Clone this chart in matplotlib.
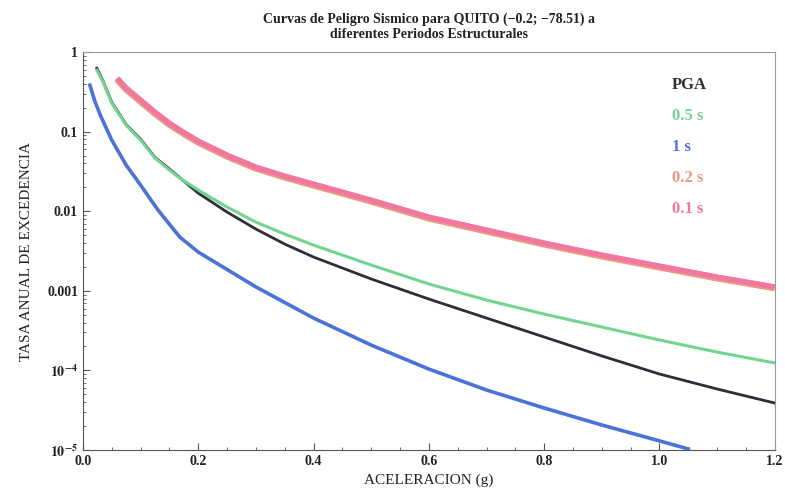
import matplotlib
matplotlib.use("Agg")
import matplotlib.pyplot as plt
from matplotlib.ticker import FixedLocator, FixedFormatter, MultipleLocator

plt.rcParams['font.family'] = ['Liberation Serif', 'DejaVu Serif']
plt.rcParams['mathtext.fontset'] = 'stix'

# curvas
x_pga = [0.024, 0.035, 0.05, 0.075, 0.1, 0.125, 0.15, 0.2, 0.25, 0.3, 0.35, 0.4, 0.5, 0.6,
         0.7, 0.8, 0.9, 1.0, 1.1, 1.2]
y_pga = [0.629, 0.43, 0.235, 0.123, 0.0805, 0.0475, 0.0340, 0.0169, 0.00977, 0.00598,
         0.00387, 0.00266, 0.00141, 7.89e-4, 4.55e-4, 2.63e-4, 1.52e-4, 9.01e-5, 5.84e-5, 3.89e-5]

x_05 = [0.024, 0.035, 0.05, 0.075, 0.1, 0.125, 0.15, 0.168, 0.2, 0.25, 0.3, 0.35, 0.4,
        0.5, 0.6, 0.7, 0.8, 0.9, 1.0, 1.1, 1.2]
y_05 = [0.594, 0.42, 0.229, 0.121, 0.0784, 0.0466, 0.0330, 0.0261, 0.0185, 0.0113, 0.00731,
        0.00517, 0.00376, 0.00211, 0.00122, 7.66e-4, 5.11e-4, 3.51e-4, 2.41e-4, 1.70e-4, 1.24e-4]

x_1 = [0.012, 0.02, 0.03, 0.05, 0.075, 0.1, 0.13, 0.168, 0.2, 0.3, 0.4, 0.5, 0.6, 0.7,
       0.8, 0.9, 1.0, 1.05]
y_1 = [0.385, 0.249, 0.162, 0.0784, 0.0380, 0.0213, 0.0104, 4.74e-3, 3.07e-3, 1.12e-3,
       4.55e-4, 2.08e-4, 1.04e-4, 5.67e-5, 3.37e-5, 2.06e-5, 1.30e-5, 1.03e-5]

x_01 = [0.059, 0.075, 0.1, 0.125, 0.15, 0.168, 0.2, 0.25, 0.3, 0.35, 0.4, 0.5, 0.6, 0.7,
        0.8, 0.9, 1.0, 1.1, 1.2]
y_01 = [0.471, 0.353, 0.249, 0.176, 0.128, 0.105, 0.0762, 0.0508, 0.0359, 0.0277, 0.0220,
        0.0138, 0.00846, 0.00581, 0.00399, 0.00282, 0.00205, 0.00149, 0.00112]

x_02 = [0.059, 0.075, 0.1, 0.125, 0.15, 0.168, 0.2, 0.25, 0.3, 0.35, 0.4, 0.5, 0.6, 0.7,
        0.8, 0.9, 1.0, 1.1, 1.2]
y_02 = [0.46, 0.342, 0.241, 0.170, 0.124, 0.102, 0.0740, 0.0493, 0.0348, 0.0269, 0.0213,
        0.0134, 0.00821, 0.00564, 0.00387, 0.00274, 0.00199, 0.00145, 0.00109]

labels = ['PGA', '0.5 s', '1 s', '0.2 s', '0.1 s']
colors = ['#2e2e3a', '#72d48f', '#4b72d8', '#e89a7e', '#f277a0']

y_ticks = [1, 0.1, 0.01, 0.001, 1e-4, 1e-5]
y_ticklabels = ['1', '0.1', '0.01', '0.001', r'$\mathbf{10^{-4}}$', r'$\mathbf{10^{-5}}$']

fig = plt.figure(figsize=(7.85, 4.97), dpi=100)
ax = fig.add_axes([0.1057, 0.0946, 0.8813, 0.8004])

ax.plot(x_02, y_02, color=colors[3], lw=5, solid_capstyle='butt')
ax.plot(x_01, y_01, color=colors[4], lw=3.8, solid_capstyle='butt')
ax.plot(x_pga, y_pga, color=colors[0], lw=2.0)
ax.plot(x_05, y_05, color=colors[1], lw=2.2)
ax.plot(x_1, y_1, color=colors[2], lw=2.6)

ax.set_yscale('log')
ax.set_xlim(0, 1.2)
ax.set_ylim(1e-5, 1)
ax.yaxis.set_major_locator(FixedLocator(y_ticks))
ax.yaxis.set_major_formatter(FixedFormatter(y_ticklabels))
ax.xaxis.set_major_locator(MultipleLocator(0.2))
ax.xaxis.set_minor_locator(MultipleLocator(0.05))
ax.xaxis.set_major_formatter(plt.FuncFormatter(lambda v, p: f"{v:.1f}"))

ax.tick_params(which='both', direction='in', colors='#555555', labelcolor='#222222')
ax.tick_params(which='major', length=5, labelsize=10)
ax.tick_params(which='minor', length=2.5)
for lab in ax.get_xticklabels() + ax.get_yticklabels():
    lab.set_fontweight('bold')
for s in ax.spines.values():
    s.set_color('#999999')
    s.set_linewidth(0.8)
ax.spines['left'].set_color('#555555')
ax.spines['bottom'].set_color('#555555')

ax.set_xlabel('ACELERACION (g)', fontsize=11, color='#222222', labelpad=4)
ax.set_ylabel('TASA ANUAL DE EXCEDENCIA', fontsize=11, color='#222222', labelpad=10)
ax.set_title('Curvas de Peligro Sismico para QUITO (\u22120.2; \u221278.51) a\ndiferentes Periodos Estructurales',
             fontsize=10, fontweight='bold', color='#222222', pad=10)

handles = [plt.Line2D([], [], lw=0) for _ in labels]
leg = ax.legend(handles, labels, loc='upper left', bbox_to_anchor=(0.83, 0.975),
                handlelength=0, handletextpad=0, frameon=False,
                labelcolor=colors, prop={'weight': 'bold', 'size': 12},
                labelspacing=0.9)

fig.savefig('out.png', dpi=100)
